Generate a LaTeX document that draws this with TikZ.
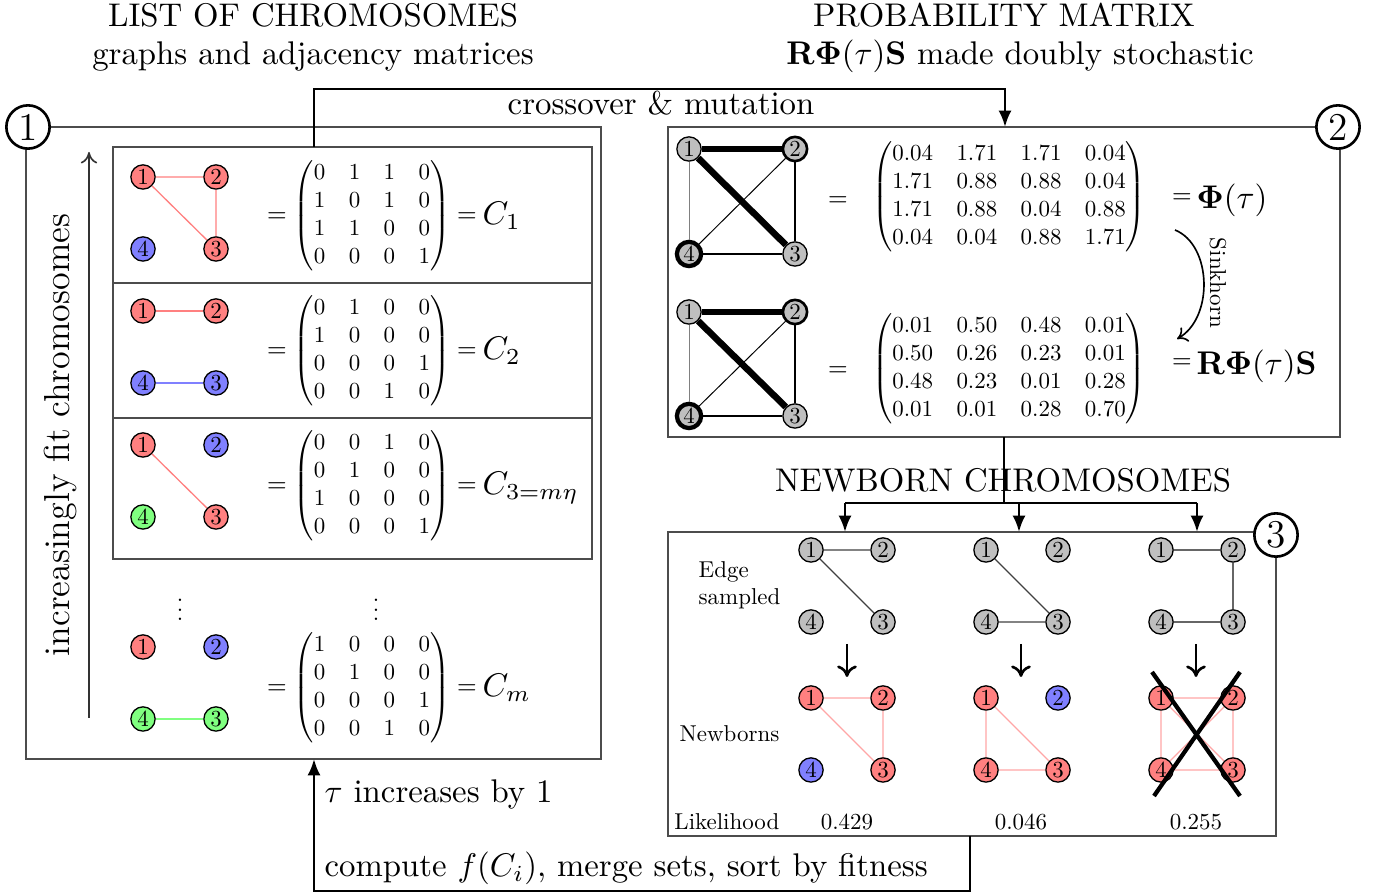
\documentclass[tikz,border=0pt]{standalone}
\usepackage{amsmath}
\usepackage{graphicx}
\usetikzlibrary{arrows.meta}
\newcommand{\amat}[1]{\scalebox{0.7}{\fontsize{10}{12.3}\selectfont$\setlength{\arraycolsep}{5.1pt}\begin{pmatrix}#1\end{pmatrix}$}}
\newcommand{\sx}[1]{\scalebox{0.7}{\fontsize{10}{12}\selectfont #1}}
\begin{document}
\begin{tikzpicture}[x=0.305pt,y=-0.305pt,
  v/.style={circle,draw,line width=0.4pt,minimum size=7.4pt,inner sep=0pt},
  rv/.style={v,fill=red!50}, bv/.style={v,fill=blue!50}, gv/.style={v,fill=green!50}, kv/.style={v,fill=black!25},
  panel/.style={draw=black!70,line width=0.5pt},
  bignum/.style={circle,draw,line width=0.8pt,fill=white,minimum size=13.2pt,inner sep=0pt,font=\fontsize{12}{14}\selectfont},
  conn/.style={line width=0.8pt,-{Latex[length=5pt,width=4pt]}},
  cline/.style={line width=0.8pt},
  txt/.style={font=\fontsize{10}{12}\selectfont,inner sep=0pt},
  sm/.style={inner sep=0pt},
  eqs/.style={font=\fontsize{7.5}{9}\selectfont,inner sep=0pt,anchor=base},
  mat/.style={inner sep=0pt},
  re/.style={red!50,line width=0.4pt},
  be/.style={blue!50,line width=0.4pt},
  ge/.style={green!50,line width=0.4pt},
  ne/.style={red!35,line width=0.4pt},
  se/.style={black!75,line width=0.35pt},
  dnarrow/.style={line width=0.8pt,-{To[length=3.5pt,width=6pt]}},
]
\useasboundingbox (0,0) rectangle (1383,894);

% ---------- titles ----------
\node[txt,anchor=base] (t1) at (313,27) {LIST OF CHROMOSOMES};
\node[txt,anchor=base] (t2) at (313,65) {graphs and adjacency matrices};
\node[txt,anchor=base] (t3) at (1004,27) {PROBABILITY MATRIX};
\node[txt,anchor=base] (t4) at (1020,65) {$\mathbf{R}\boldsymbol{\Phi}(\tau)\mathbf{S}$ made doubly stochastic};

% ---------- panel 1 ----------
\draw[panel] (26,127) rectangle (601,759);
\draw[panel] (113,147) rectangle (592,559);
\draw[panel] (113,283) -- (592,283);
\draw[panel] (113,418) -- (592,418);
\node[bignum] (c1) at (28,127) {1};

\coordinate (arB) at (89,718);
\coordinate (arT) at (89,152);
\draw[black!80,line width=0.5pt,-{To[length=3.5pt,width=5pt]}] (arB) -- (arT);
\node[rotate=90,font=\fontsize{11}{13}\selectfont,inner sep=0pt] (inc) at (60,435) {increasingly fit chromosomes};

% row 1
\node[rv] (a1) at (143,177) {\sx{1}};
\node[rv] (a2) at (216,177) {\sx{2}};
\node[rv] (a3) at (216,249) {\sx{3}};
\node[bv] (a4) at (143,249) {\sx{4}};
\draw[re] (a1) -- (a2) (a2) -- (a3) (a1) -- (a3);
\node[eqs] (e1) at (277,222) {$=$};
\node[mat] (m1) at (372,216) {\amat{0&1&1&0\\1&0&1&0\\1&1&0&0\\0&0&0&1}};
\node[eqs] (f1) at (467,222) {$=$};
\node[txt,anchor=base west] (C1) at (482,225) {$C_1$};

% row 2
\node[rv] (b1) at (143,311) {\sx{1}};
\node[rv] (b2) at (216,311) {\sx{2}};
\node[bv] (b3) at (216,383) {\sx{3}};
\node[bv] (b4) at (143,383) {\sx{4}};
\draw[re] (b1) -- (b2);
\draw[be] (b4) -- (b3);
\node[eqs] (e2) at (277,357) {$=$};
\node[mat] (m2) at (372,351) {\amat{0&1&0&0\\1&0&0&0\\0&0&0&1\\0&0&1&0}};
\node[eqs] (f2) at (467,357) {$=$};
\node[txt,anchor=base west] (C2) at (482,360) {$C_2$};

% row 3
\node[rv] (d1) at (143,445) {\sx{1}};
\node[bv] (d2) at (216,445) {\sx{2}};
\node[rv] (d3) at (216,517) {\sx{3}};
\node[gv] (d4) at (143,517) {\sx{4}};
\draw[re] (d1) -- (d3);
\node[eqs] (e3) at (277,492) {$=$};
\node[mat] (m3) at (372,486) {\amat{0&0&1&0\\0&1&0&0\\1&0&0&0\\0&0&0&1}};
\node[eqs] (f3) at (467,492) {$=$};
\node[txt,anchor=base west] (C3) at (482,495) {$C_{3=m\eta}$};

% dots
\node[sm] (vd1) at (180,603) {\sx{$\vdots$}};
\node[sm] (vd2) at (376,603) {\sx{$\vdots$}};

% row m
\node[rv] (g1) at (143,647) {\sx{1}};
\node[bv] (g2) at (216,647) {\sx{2}};
\node[gv] (g3) at (216,719) {\sx{3}};
\node[gv] (g4) at (143,719) {\sx{4}};
\draw[ge] (g4) -- (g3);
\node[eqs] (e4) at (277,694) {$=$};
\node[mat] (m4) at (372,688) {\amat{1&0&0&0\\0&1&0&0\\0&0&0&1\\0&0&1&0}};
\node[eqs] (f4) at (467,694) {$=$};
\node[txt,anchor=base west] (C4) at (482,697) {$C_m$};

% ---------- panel 2 ----------
\draw[panel] (668,127) rectangle (1340,437);
\node[bignum] (c2) at (1338,127) {2};

\node[kv] (p1) at (689,149) {\sx{1}};
\node[kv,line width=0.8pt] (p2) at (795,149) {\sx{2}};
\node[kv] (p3) at (795,254) {\sx{3}};
\node[kv,line width=1.3pt] (p4) at (689,254) {\sx{4}};
\draw[line width=2pt] (p1) -- (p2);
\draw[line width=2pt] (p1) -- (p3);
\draw[line width=0.8pt] (p2) -- (p3);
\draw[line width=0.8pt] (p4) -- (p3);
\draw[line width=0.3pt] (p2) -- (p4);
\draw[line width=0.2pt,black!50] (p1) -- (p4);
\node[eqs] (e5) at (838,206) {$=$};
\node[mat] (m5) at (1009,197) {\amat{0.04&1.71&1.71&0.04\\1.71&0.88&0.88&0.04\\1.71&0.88&0.04&0.88\\0.04&0.04&0.88&1.71}};
\node[eqs] (f5) at (1182,203) {$=$};
\node[txt,anchor=base west] (Phi) at (1196,209) {$\boldsymbol{\Phi}(\tau)$};

\node[kv] (q1) at (689,312) {\sx{1}};
\node[kv,line width=0.8pt] (q2) at (795,312) {\sx{2}};
\node[kv] (q3) at (795,416) {\sx{3}};
\node[kv,line width=1.3pt] (q4) at (689,416) {\sx{4}};
\draw[line width=2pt] (q1) -- (q2);
\draw[line width=2pt] (q1) -- (q3);
\draw[line width=0.8pt] (q2) -- (q3);
\draw[line width=0.8pt] (q4) -- (q3);
\draw[line width=0.3pt] (q2) -- (q4);
\draw[line width=0.2pt,black!50] (q1) -- (q4);
\node[eqs] (e6) at (838,376) {$=$};
\node[mat] (m6) at (1009,369) {\amat{0.01&0.50&0.48&0.01\\0.50&0.26&0.23&0.01\\0.48&0.23&0.01&0.28\\0.01&0.01&0.28&0.70}};
\node[eqs] (f6) at (1182,368) {$=$};
\node[txt,anchor=base west] (RPS) at (1196,375) {$\mathbf{R}\boldsymbol{\Phi}(\tau)\mathbf{S}$};

\coordinate (sk1) at (1175,230);
\coordinate (sk2) at (1177,339);
\draw[line width=0.5pt,-{To[length=3pt,width=5pt]}] (sk1) .. controls (1212,245) and (1214,318) .. (sk2);
\node[rotate=-90,sm] (sink) at (1218,283) {\sx{Sinkhorn}};

% ---------- panel 3 ----------
\draw[panel] (668,532) rectangle (1276,836);
\node[bignum] (c3) at (1276,535) {3};

\node[sm,anchor=base west] (lb1) at (698,578) {\sx{Edge}};
\node[sm,anchor=base west] (lb2) at (698,605) {\sx{sampled}};
\node[sm,anchor=base east] (lb3) at (780,742) {\sx{Newborns}};
\node[sm,anchor=base east] (lb4) at (780,830) {\sx{Likelihood}};
\node[sm,anchor=base] (lk1) at (847,830) {\sx{0.429}};
\node[sm,anchor=base] (lk2) at (1021,830) {\sx{0.046}};
\node[sm,anchor=base] (lk3) at (1196,830) {\sx{0.255}};

% column 1
\node[kv] (s11) at (811,550) {\sx{1}};
\node[kv] (s12) at (883,550) {\sx{2}};
\node[kv] (s13) at (883,622) {\sx{3}};
\node[kv] (s14) at (811,622) {\sx{4}};
\draw[se] (s11) -- (s12) (s11) -- (s13);
\node[rv] (n11) at (811,698) {\sx{1}};
\node[rv] (n12) at (883,698) {\sx{2}};
\node[rv] (n13) at (883,770) {\sx{3}};
\node[bv] (n14) at (811,770) {\sx{4}};
\draw[ne] (n11) -- (n12) (n12) -- (n13) (n11) -- (n13);
\coordinate (da1) at (847,644);
\coordinate (db1) at (847,677);
\draw[dnarrow] (da1) -- (db1);

% column 2
\node[kv] (s21) at (986,550) {\sx{1}};
\node[kv] (s22) at (1058,550) {\sx{2}};
\node[kv] (s23) at (1058,622) {\sx{3}};
\node[kv] (s24) at (986,622) {\sx{4}};
\draw[se] (s21) -- (s23) (s24) -- (s23);
\node[rv] (n21) at (986,698) {\sx{1}};
\node[bv] (n22) at (1058,698) {\sx{2}};
\node[rv] (n23) at (1058,770) {\sx{3}};
\node[rv] (n24) at (986,770) {\sx{4}};
\draw[ne] (n21) -- (n24) (n21) -- (n23) (n24) -- (n23);
\coordinate (da2) at (1021,644);
\coordinate (db2) at (1021,677);
\draw[dnarrow] (da2) -- (db2);

% column 3
\node[kv] (s31) at (1161,550) {\sx{1}};
\node[kv] (s32) at (1233,550) {\sx{2}};
\node[kv] (s33) at (1233,622) {\sx{3}};
\node[kv] (s34) at (1161,622) {\sx{4}};
\draw[se,black!60] (s31) -- (s32) (s32) -- (s33) (s34) -- (s33);
\node[rv] (n31) at (1161,698) {\sx{1}};
\node[rv] (n32) at (1233,698) {\sx{2}};
\node[rv] (n33) at (1233,770) {\sx{3}};
\node[rv] (n34) at (1161,770) {\sx{4}};
\draw[ne] (n31) -- (n32) (n32) -- (n33) (n33) -- (n34) (n34) -- (n31) (n31) -- (n33) (n32) -- (n34);
\coordinate (da3) at (1196,644);
\coordinate (db3) at (1196,677);
\draw[dnarrow] (da3) -- (db3);
\coordinate (x1) at (1152,672);
\coordinate (x2) at (1240,796);
\coordinate (x3) at (1240,672);
\coordinate (x4) at (1154,796);
\draw[line width=1.3pt] (x1) -- (x2) (x3) -- (x4);

% ---------- connectors ----------
\coordinate (k0) at (314,147);
\coordinate (k1) at (314,89);
\coordinate (k2) at (1005,127);
\draw[conn] (k0) -- (k1) -| (k2);
\node[txt,anchor=base] (cm) at (661,115) {crossover \& mutation};

\coordinate (h0) at (1004,437);
\coordinate (h1) at (1004,503);
\coordinate (hl) at (845,503);
\coordinate (hr) at (1197,503);
\coordinate (hm) at (1019,503);
\coordinate (z1) at (845,532);
\coordinate (z2) at (1019,532);
\coordinate (z3) at (1197,532);
\draw[cline] (h0) -- (h1);
\draw[cline] (hl) -- (hr);
\draw[conn] (hl) -- (z1);
\draw[conn] (hm) -- (z2);
\draw[conn] (hr) -- (z3);
\node[txt,anchor=base] (nb) at (1003,492) {NEWBORN CHROMOSOMES};

\coordinate (w0) at (970,836);
\coordinate (w1) at (970,891);
\coordinate (w2) at (314,759);
\draw[conn] (w0) -- (w1) -| (w2);
\node[txt,anchor=base west] (tau) at (324,803) {$\tau$ increases by 1};
\node[txt,anchor=base west] (cmp) at (324,877) {compute $f(C_i)$, merge sets, sort by fitness};
\end{tikzpicture}
\end{document}
